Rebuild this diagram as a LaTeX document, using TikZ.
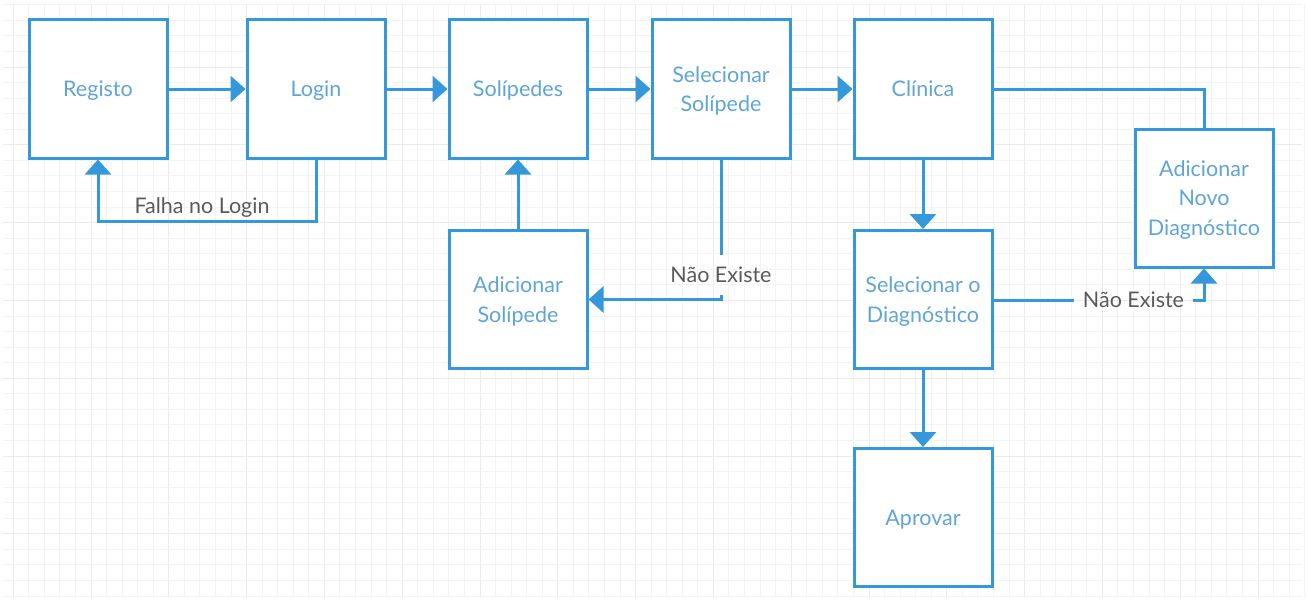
\documentclass[tikz,border=0pt]{standalone}
\usepackage{fontspec}
\setmainfont{Lato}
\usetikzlibrary{arrows.meta}
\definecolor{lineblue}{HTML}{3498DB}
\definecolor{textblue}{HTML}{5FA5D8}
\definecolor{labelgray}{HTML}{5A5A5A}
\definecolor{gridminor}{HTML}{F3F3F3}
\definecolor{gridmajor}{HTML}{EBEBEB}
\tikzset{
  stepbox/.style={draw=lineblue, line width=3pt, fill=white, minimum width=138pt, minimum height=138pt,
    inner sep=0pt, text depth=0pt, text=textblue, font=\fontsize{21.5pt}{29.5pt}\selectfont, align=center},
  conn/.style={draw=lineblue, line width=3pt},
  arr/.style={conn, -{Triangle[length=15pt,width=26pt]}},
  lbl/.style={text=labelgray, font=\fontsize{21.5pt}{24pt}\selectfont, inner sep=0pt},
}
\begin{document}
\begin{tikzpicture}[x=1pt,y=-1pt]
\useasboundingbox (0,0) rectangle (1308,602);
\fill[white] (0,0) rectangle (1308,602);
% grid
\foreach \k in {0,...,83} {
  \pgfmathsetmacro{\xx}{13.2+15.56*\k}
  \pgfmathtruncatemacro{\mm}{mod(\k,5)}
  \ifnum\mm=0 \draw[gridmajor,line width=1pt] (\xx,4) -- (\xx,598);
  \else \draw[gridminor,line width=1pt] (\xx,4) -- (\xx,598); \fi
}
\foreach \k in {0,...,38} {
  \pgfmathsetmacro{\yy}{4.8+15.56*\k}
  \pgfmathtruncatemacro{\mm}{mod(\k+1,5)}
  \ifnum\mm=0 \draw[gridmajor,line width=1pt] (3,\yy) -- (1302,\yy);
  \else \draw[gridminor,line width=1pt] (3,\yy) -- (1302,\yy); \fi
}
% nodes
\node[stepbox] (reg) at (98,89) {Registo};
\node[stepbox] (login) at (316,89) {Login};
\node[stepbox] (sol) at (518,89) {Solípedes};
\node[stepbox] (selsol) at (721,89) {Selecionar\\Solípede};
\node[stepbox] (clin) at (923,89) {Clínica};
\node[stepbox] (adddiag) at (1204,198) {Adicionar\\Novo\\Diagnóstico};
\node[stepbox] (addsol) at (518,299.5) {Adicionar\\Solípede};
\node[stepbox] (seldiag) at (923,299.5) {Selecionar o\\Diagnóstico};
\node[stepbox] (aprovar) at (923,517.5) {Aprovar};
% labels
\node[lbl] (falha) at (202,208) {Falha no Login};
\node[lbl, minimum height=40pt] (ne1) at (721,275) {Não Existe};
\node[lbl, minimum width=119pt] (ne2) at (1133.5,300) {Não Existe};
\coordinate (fl) at (200,221);
% connectors
\draw[arr] (reg.east) -- (login.west);
\draw[arr] (login.east) -- (sol.west);
\draw[arr] (sol.east) -- (selsol.west);
\draw[arr] (selsol.east) -- (clin.west);
\draw[arr] (login.south) |- (fl) -| (reg.south);
\draw[conn] (selsol.south) -- (ne1.north);
\draw[arr] (ne1.south) |- (addsol.east);
\draw[arr] (addsol.north) -- (sol.south);
\draw[arr] (clin.south) -- (seldiag.north);
\draw[arr] (seldiag.south) -- (aprovar.north);
\draw[conn] (clin.east) -| (adddiag.north);
\draw[conn] (seldiag.east |- ne2.west) -- (ne2.west);
\draw[arr] (ne2.east) -| (adddiag.south);
\end{tikzpicture}
\end{document}
